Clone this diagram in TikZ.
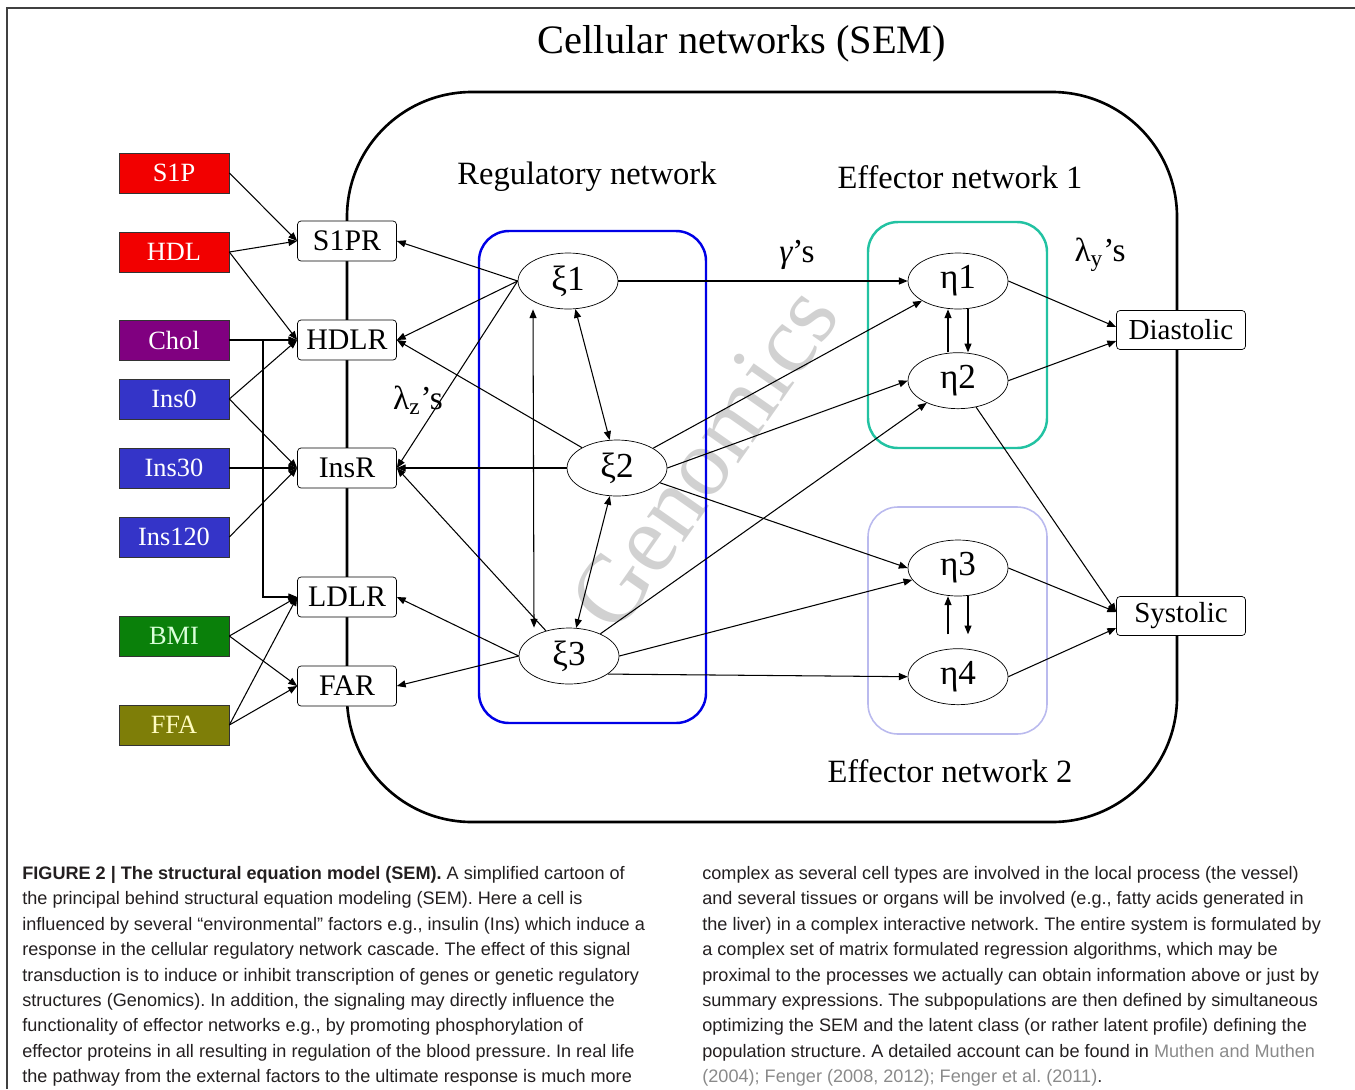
\documentclass[tikz,border=0pt]{standalone}
\usepackage{fontspec}
\setmainfont{Liberation Serif}
\newfontfamily\capfont{Liberation Sans}
\usetikzlibrary{arrows.meta,positioning,shapes.geometric}
\definecolor{InRed}{HTML}{F20000}
\definecolor{InPurple}{HTML}{800080}
\definecolor{InBlue}{HTML}{3434C8}
\definecolor{InGreen}{HTML}{0A800A}
\definecolor{InOlive}{HTML}{7E7E08}
\definecolor{RegBlue}{HTML}{0000E6}
\definecolor{EffTeal}{HTML}{22C2A2}
\definecolor{EffLav}{HTML}{BABAEE}
\definecolor{CapText}{HTML}{231F20}
\definecolor{CiteGray}{HTML}{8A8A8A}

\begin{document}
\begin{tikzpicture}[
  x=0.02cm, y=-0.02cm,
  node distance=8mm and 10mm,
  input/.style={draw=black!80, minimum width=2.2cm, minimum height=0.8cm, inner sep=0pt, text=white, font=\fontsize{15}{15}\selectfont},
  recep/.style={draw, fill=white, rounded corners=2pt, minimum width=1.98cm, minimum height=0.8cm, inner sep=0pt, font=\fontsize{17}{17}\selectfont},
  latent/.style={draw, ellipse, fill=white, minimum width=2cm, minimum height=1.12cm, inner sep=0pt, font=\fontsize{20}{20}\selectfont},
  outbox/.style={draw, fill=white, rounded corners=2pt, minimum width=2.58cm, minimum height=0.78cm, inner sep=0pt, font=\fontsize{16.5}{16.5}\selectfont},
  head/.style={font=\fontsize{18.5}{18.5}\selectfont},
  coef/.style={font=\fontsize{19}{19}\selectfont},
  netbox/.style={rounded corners=0.6cm, line width=1.4pt},
  arr/.style={-{Triangle[length=5pt,width=4pt]}, line width=0.6pt},
  dbl/.style={{Triangle[length=5pt,width=4pt]}-{Triangle[length=5pt,width=4pt]}, line width=0.6pt},
  captext/.style={anchor=north west, inner sep=0pt, align=left, text=CapText, font=\capfont\frenchspacing\fontsize{10.3}{14.45}\selectfont}
]
\useasboundingbox (0,0) rectangle (1355,1089);
% frame
\draw[black!75, line width=1.1pt] (7,1089) -- (7,8) -- (1355,8);

\node[font=\fontsize{23}{23}\selectfont] (title) at (742,44) {Cellular networks (SEM)};

% watermark
\node[rotate=55, text=black!18, font=\fontsize{55}{55}\selectfont] (genomics) at (704,458) {Genomics};

% the cell
\draw[line width=1.5pt, rounded corners=2.5cm] (347,92) rectangle (1177,822);

% sub networks
\draw[netbox, draw=RegBlue] (479,231) rectangle (706,723);
\draw[netbox, draw=EffTeal] (868,222) rectangle (1047,448);
\draw[netbox, draw=EffLav, line width=0.9pt] (868,507) rectangle (1047,734);

\node[head] (reglab) at (587,177) {Regulatory network};
\node[head] (efflabA) at (960,177) {Effector network 1};
\node[head] (efflabB) at (950,771) {Effector network 2};

% inputs
\node[input, fill=InRed] (S1P) at (174,173) {S1P};
\node[input, fill=InRed] (HDL) at (174,252) {HDL};
\node[input, fill=InPurple] (Chol) at (174,340) {Chol};
\node[input, fill=InBlue] (Ins0) at (174,399) {Ins0};
\node[input, fill=InBlue] (Ins30) at (174,468) {Ins30};
\node[input, fill=InBlue] (Ins120) at (174,537) {Ins120};
\node[input, fill=InGreen, text=green!15] (BMI) at (174,636) {BMI};
\node[input, fill=InOlive, text=yellow!25] (FFA) at (174,725) {FFA};

% receptors
\node[recep] (S1PR) at (347,241) {S1PR};
\node[recep] (HDLR) at (347,340) {HDLR};
\node[recep] (InsR) at (347,468) {InsR};
\node[recep] (LDLR) at (347,597) {LDLR};
\node[recep] (FAR) at (347,686) {FAR};

% latent variables
\node[latent] (xi1) at (568,281) {ξ1};
\node[latent] (xi2) at (617,468) {ξ2};
\node[latent] (xi3) at (569,656) {ξ3};
\node[latent] (eta1) at (958,281) {η1};
\node[latent, below=0.86cm of eta1] (eta2) {η2};
\node[latent] (eta3) at (958,568) {η3};
\node[latent, below=1.04cm of eta3] (eta4) {η4};

% responses
\node[outbox] (dia) at (1181,330) {Diastolic};
\node[outbox] (sys) at (1181,616) {Systolic};

\node[coef] (gam) at (797,255) {{\itshape γ}’s};
\node[coef] (lamy) at (1100,255) {λ\textsubscript{y}’s};
\node[coef] (lamz) at (418,400) {λ\textsubscript{z}’s};

% inputs -> receptors
\draw[arr] (S1P.east) -- (S1PR.west);
\draw[arr] (HDL.east) -- (S1PR.west);
\draw[arr] (HDL.east) -- (HDLR.west);
\draw[arr] (Chol.east) -- (HDLR.west);
\coordinate (cholbend) at (263,340);
\draw[arr] (cholbend) |- (LDLR.west);
\draw[arr] (Ins0.east) -- (HDLR.west);
\draw[arr] (Ins0.east) -- (InsR.west);
\draw[arr] (Ins30.east) -- (InsR.west);
\draw[arr] (Ins120.east) -- (InsR.west);
\draw[arr] (BMI.east) -- (LDLR.west);
\draw[arr] (BMI.east) -- (FAR.west);
\draw[arr] (FFA.east) -- (LDLR.west);
\draw[arr] (FFA.east) -- (FAR.west);

% regulatory -> receptors
\draw[arr] (xi1.west) -- (S1PR.east);
\draw[arr] (xi1.west) -- (HDLR.east);
\draw[arr] (xi1.west) -- (InsR.east);
\draw[arr] (xi2) -- (HDLR.east);
\draw[arr] (xi2.west) -- (InsR.east);
\draw[arr] (xi3) -- (InsR.east);
\draw[arr] (xi3.west) -- (LDLR.east);
\draw[arr] (xi3.west) -- (FAR.east);

% within regulatory
\draw[dbl] (xi1) -- (xi2);
\draw[dbl] (xi2) -- (xi3);
\draw[dbl] ([xshift=-0.7cm]xi1.south) -- ([xshift=-0.7cm]xi3.north);

% regulatory -> effectors
\draw[arr] (xi1.east) -- (eta1.west);
\draw[arr] (xi2) -- (eta1);
\draw[arr] (xi2.east) -- (eta2.west);
\draw[arr] (xi2) -- (eta3.west);
\draw[arr] (xi3) -- (eta2);
\draw[arr] (xi3.east) -- (eta3);
\draw[arr] (xi3.-25) -- (eta4.west);

% within effectors
\draw[arr] ([xshift=0.2cm]eta1.south) -- ([xshift=0.2cm]eta2.north);
\draw[arr] ([xshift=-0.2cm]eta2.north) -- ([xshift=-0.2cm]eta1.south);
\draw[arr, shorten >=8pt] ([xshift=0.2cm]eta3.south) -- ([xshift=0.2cm]eta4.north);
\draw[arr, shorten <=8pt] ([xshift=-0.2cm]eta4.north) -- ([xshift=-0.2cm]eta3.south);

% effectors -> responses
\draw[arr] (eta1.east) -- ([yshift=0.06cm]dia.west);
\draw[arr] (eta2.east) -- ([yshift=-0.22cm]dia.west);
\draw[arr] (eta2) -- ([yshift=0.08cm]sys.west);
\draw[arr] (eta3.east) -- ([yshift=0.08cm]sys.west);
\draw[arr] (eta4.east) -- ([yshift=-0.24cm]sys.west);

% caption
\node[captext] (capL) at (22,866) {\textbf{FIGURE 2 | The structural equation model (SEM).} A simplified cartoon of\\
the principal behind structural equation modeling (SEM). Here a cell is\\
influenced by several “environmental” factors e.g., insulin (Ins) which induce a\\
response in the cellular regulatory network cascade. The effect of this signal\\
transduction is to induce or inhibit transcription of genes or genetic regulatory\\
structures (Genomics). In addition, the signaling may directly influence the\\
functionality of effector networks e.g., by promoting phosphorylation of\\
effector proteins in all resulting in regulation of the blood pressure. In real life\\
the pathway from the external factors to the ultimate response is much more};
\node[captext] (capR) at (702,866) {complex as several cell types are involved in the local process (the vessel)\\
and several tissues or organs will be involved (e.g., fatty acids generated in\\
the liver) in a complex interactive network. The entire system is formulated by\\
a complex set of matrix formulated regression algorithms, which may be\\
proximal to the processes we actually can obtain information above or just by\\
summary expressions. The subpopulations are then defined by simultaneous\\
optimizing the SEM and the latent class (or rather latent profile) defining the\\
population structure. A detailed account can be found in \textcolor{CiteGray}{Muthen and Muthen}\\
\textcolor{CiteGray}{(2004); Fenger (2008, 2012); Fenger et al. (2011)}.};
\end{tikzpicture}
\end{document}
